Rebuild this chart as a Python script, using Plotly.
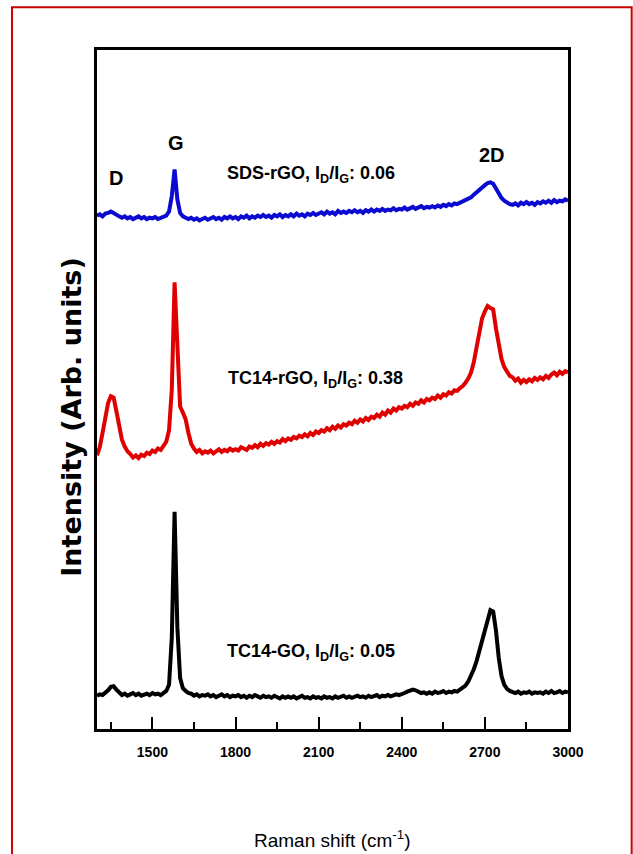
import plotly.graph_objects as go

# Raman shift grid (cm^-1)
raman_shift = list(range(1300, 3001, 10))

# TC14-GO (black), arbitrary intensity units
tc14_go = [
    4.9, 5.1, 5.0, 5.3, 5.7, 6.2, 6.3, 5.8, 5.3, 5.0,
    5.2, 4.9, 5.1, 5.3, 5.0, 5.2, 4.9, 5.1, 5.2, 5.0,
    5.3, 5.1, 5.2, 5.0, 5.4, 5.6, 6.5, 13.5, 32.0, 15.0,
    7.5, 6.0, 5.6, 5.3, 5.2, 4.9, 5.1, 4.8, 5.0, 4.9,
    5.1, 4.8, 5.0, 4.7, 4.9, 5.1, 4.8, 5.0, 4.7, 4.9,
    4.8, 5.0, 4.7, 4.9, 4.6, 4.9, 4.7, 5.0, 4.8, 4.6,
    4.9, 4.7, 4.8, 4.6, 4.9, 4.7, 4.5, 4.8, 4.6, 4.8,
    4.6, 4.8, 4.5, 4.7, 4.9, 4.6, 4.7, 4.5, 4.8, 4.6,
    4.7, 4.5, 4.8, 4.6, 4.7, 4.5, 4.8, 4.6, 4.7, 4.9,
    4.6, 4.8, 4.6, 4.7, 4.9, 4.7, 4.8, 4.6, 4.9, 4.7,
    4.8, 5.0, 4.7, 4.9, 4.8, 5.0, 4.8, 4.9, 5.1, 5.0,
    5.1, 5.3, 5.5, 5.7, 5.8, 5.7, 5.5, 5.3, 5.4, 5.2,
    5.4, 5.2, 5.5, 5.3, 5.4, 5.6, 5.3, 5.5, 5.4, 5.6,
    5.5, 5.8, 6.0, 6.4, 7.0, 7.8, 8.8, 10.0, 11.5, 13.0,
    14.2, 15.8, 17.5, 17.3, 14.5, 10.5, 7.8, 6.5, 5.9, 5.6,
    5.5, 5.3, 5.5, 5.2, 5.4, 5.3, 5.5, 5.2, 5.4, 5.3,
    5.4, 5.2, 5.5, 5.3, 5.6, 5.3, 5.4, 5.6, 5.3, 5.5,
    5.4,
]

# TC14-rGO (red)
tc14_rgo = [
    40.3, 41.5, 43.6, 46.0, 48.0, 49.0, 48.8, 46.8, 44.3, 42.6,
    41.6, 40.9, 40.5, 40.0, 40.3, 39.9, 40.4, 40.2, 40.7, 40.5,
    41.0, 40.8, 41.3, 41.1, 41.7, 42.3, 44.0, 50.0, 65.8, 56.0,
    47.5, 46.6, 45.6, 43.6, 42.0, 41.3, 40.8, 41.1, 40.6, 40.9,
    40.7, 41.0, 40.6, 40.9, 41.2, 40.8, 41.1, 40.9, 41.3, 41.0,
    41.2, 41.0, 41.5, 41.3, 41.1, 41.6, 41.4, 41.8, 41.5, 42.0,
    41.7, 42.1, 41.9, 42.3, 42.0, 42.4, 42.2, 42.7, 42.4, 42.8,
    42.6, 43.0, 42.8, 43.2, 43.0, 43.4, 43.1, 43.6, 43.3, 43.8,
    43.6, 44.0, 43.8, 44.3, 44.0, 44.5, 44.2, 44.7, 44.4, 44.9,
    44.7, 45.1, 44.9, 45.4, 45.1, 45.6, 45.3, 45.8, 45.5, 46.0,
    45.8, 46.3, 46.0, 46.6, 46.3, 46.9, 46.6, 47.2, 46.9, 47.4,
    47.2, 47.6, 47.4, 47.9, 47.6, 48.1, 47.9, 48.4, 48.1, 48.6,
    48.4, 48.8, 48.6, 49.1, 48.8, 49.3, 49.1, 49.6, 49.4, 49.9,
    49.8, 50.2, 50.5, 51.0, 51.6, 52.5, 54.0, 56.2, 58.7, 60.5,
    61.5, 62.3, 62.0, 61.8, 59.0, 56.5, 54.5, 53.3, 52.7, 52.0,
    51.8, 51.3, 51.6, 51.0, 51.4, 51.1, 51.5, 51.2, 51.7, 51.4,
    51.8, 51.5, 52.0, 51.7, 52.2, 52.5, 52.1, 52.6, 52.3, 52.7,
    52.5,
]

# SDS-rGO (blue)
sds_rgo = [
    75.6, 75.8, 75.5, 75.9, 76.0, 76.2, 76.0, 75.7, 75.5, 75.3,
    75.5, 75.2, 75.4, 75.1, 75.3, 75.5, 75.2, 75.4, 75.1, 75.3,
    75.2, 75.4, 75.1, 75.3, 75.5, 75.6, 76.2, 78.5, 82.4, 78.0,
    76.0, 75.5, 75.3, 75.1, 75.3, 75.0, 75.2, 74.9, 75.1, 75.3,
    75.0, 75.2, 75.4, 75.1, 75.3, 75.0, 75.4, 75.2, 75.5, 75.2,
    75.4, 75.1, 75.5, 75.3, 75.6, 75.2, 75.5, 75.3, 75.6, 75.4,
    75.7, 75.4, 75.6, 75.3, 75.7, 75.5, 75.8, 75.4, 75.7, 75.5,
    75.8, 75.5, 75.9, 75.6, 75.8, 75.5, 75.9, 75.7, 76.0, 75.7,
    75.9, 76.1, 75.8, 76.2, 75.9, 76.1, 75.8, 76.3, 76.0, 76.2,
    76.0, 76.3, 76.1, 76.4, 76.1, 76.3, 76.0, 76.4, 76.2, 76.5,
    76.2, 76.5, 76.3, 76.6, 76.3, 76.5, 76.4, 76.7, 76.4, 76.6,
    76.5, 76.8, 76.5, 76.7, 76.9, 76.6, 76.8, 77.0, 76.7, 76.9,
    76.8, 77.0, 76.8, 77.1, 76.9, 77.2, 77.0, 77.3, 77.1, 77.4,
    77.3, 77.5, 77.6, 77.8, 78.0, 78.3, 78.7, 79.1, 79.5, 79.8,
    80.1, 80.4, 80.5, 80.3, 79.6, 78.8, 78.2, 77.8, 77.5, 77.3,
    77.2, 77.4, 77.1, 77.5, 77.3, 77.6, 77.3, 77.5, 77.2, 77.6,
    77.4, 77.7, 77.5, 77.8, 77.5, 77.9, 77.6, 77.8, 77.7, 78.0,
    77.8,
]

series_names = ["TC14-GO", "TC14-rGO", "SDS-rGO"]
series_values = [tc14_go, tc14_rgo, sds_rgo]
series_colors = ["#000000", "#e00000", "#0a0ad0"]

x_ticks = [1500, 1800, 2100, 2400, 2700, 3000]

# annotation texts
peak_labels = ["D", "G", "2D"]
peak_pos = [(1370, 81.1), (1584, 86.3), (2725, 84.5)]
sample_labels = [
    "SDS-rGO, I<sub>D</sub>/I<sub>G</sub>: 0.06",
    "TC14-rGO, I<sub>D</sub>/I<sub>G</sub>: 0.38",
    "TC14-GO, I<sub>D</sub>/I<sub>G</sub>: 0.05",
]
sample_pos = [(2072, 81.6), (2090, 51.4), (2071, 11.2)]

SANS = "Liberation Sans, Arial, sans-serif"

fig = go.Figure()
for name, vals, col in zip(series_names, series_values, series_colors):
    fig.add_trace(go.Scatter(x=raman_shift, y=vals, mode="lines", name=name,
                             line=dict(color=col, width=4), showlegend=False))

for t, (px, py) in zip(peak_labels, peak_pos):
    fig.add_annotation(x=px, y=py, xref="x", yref="y", text=t, showarrow=False,
                       xanchor="center", yanchor="middle",
                       font=dict(family=SANS, size=20, color="black", weight="bold"))
for t, (px, py) in zip(sample_labels, sample_pos):
    fig.add_annotation(x=px, y=py, xref="x", yref="y", text=t, showarrow=False,
                       xanchor="center", yanchor="middle",
                       font=dict(family=SANS, size=18, color="black", weight="bold"))

fig.add_annotation(x=-0.0537, y=0.4595, xref="paper", yref="paper",
                   text="Intensity (Arb. units)", textangle=-90, showarrow=False,
                   xanchor="center", yanchor="middle",
                   font=dict(family="DejaVu Sans", size=27, color="black", weight="bold"))
fig.add_annotation(x=0.499, y=-0.162, xref="paper", yref="paper",
                   text="Raman shift (cm<sup>-1</sup>)", showarrow=False,
                   xanchor="center", yanchor="middle",
                   font=dict(family=SANS, size=19, color="black"))

# red outer frame
fig.add_shape(type="rect", xref="paper", yref="paper",
              x0=-0.1805, x1=1.1352, y0=-0.3, y1=1.0629,
              line=dict(color="#cc0000", width=2), fillcolor="rgba(0,0,0,0)")

fig.update_xaxes(range=[1300, 3000], tickvals=x_ticks, ticktext=[str(v) for v in x_ticks],
                 ticks="inside", ticklen=12, tickwidth=2, tickcolor="black",
                 minor=dict(ticks="inside", ticklen=7, tickwidth=2, tickcolor="black",
                            tickvals=[1350, 1650, 1950, 2250, 2550, 2850]),
                 showline=True, linewidth=3, linecolor="black", mirror=True,
                 showgrid=False, zeroline=False,
                 tickfont=dict(family=SANS, size=14, color="black", weight="bold"),
                 ticklabelstandoff=8)
fig.update_yaxes(range=[0, 100], showticklabels=False, ticks="",
                 showline=True, linewidth=3, linecolor="black", mirror=True,
                 showgrid=False, zeroline=False)

fig.update_layout(width=633, height=854, margin=dict(l=97, r=65, t=50, b=125),
                  paper_bgcolor="white", plot_bgcolor="white")

fig.write_html("out.html", config={"displayModeBar": False},
               post_script="document.body.style.margin='0';document.body.style.overflow='hidden';")
